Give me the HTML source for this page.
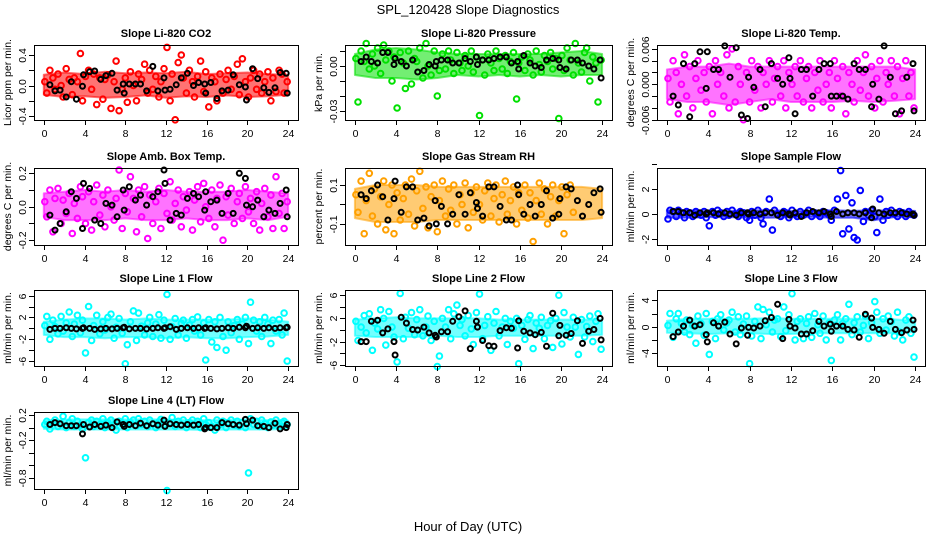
<!DOCTYPE html>
<html><head><meta charset="utf-8"><style>
html,body{margin:0;padding:0;background:#fff;}
svg{display:block;font-family:"Liberation Sans",Arial,sans-serif;}
</style></head><body>
<svg id="chart" width="936" height="540" viewBox="0 0 936 540" xmlns="http://www.w3.org/2000/svg">
<rect x="0" y="0" width="936" height="540" fill="#fff"/>
<text x="468" y="14" text-anchor="middle" font-size="13">SPL_120428  Slope Diagnostics</text>
<text x="468" y="531" text-anchor="middle" font-size="13">Hour of Day (UTC)</text>
<g id="panels"></g>
</svg>
<script>
// x values shared (hours)
const colorX = [0.1,0.3,0.6,0.9,1.1,1.4,1.7,1.9,2.2,2.5,2.8,3.0,3.3,3.6,3.8,4.1,4.4,4.7,4.9,5.2,5.5,5.8,6.0,6.3,6.6,6.9,7.1,7.4,7.7,8.0,8.2,8.5,8.8,9.1,9.3,9.6,9.9,10.2,10.4,10.7,11.0,11.3,11.5,11.8,12.1,12.4,12.6,12.9,13.2,13.5,13.7,14.0,14.3,14.6,14.8,15.1,15.4,15.7,15.9,16.2,16.5,16.8,17.0,17.3,17.6,17.9,18.1,18.4,18.7,19.0,19.2,19.5,19.8,20.1,20.3,20.6,20.9,21.2,21.4,21.7,22.0,22.3,22.5,22.8,23.1,23.4,23.6,23.9];
const blackX = [0.6,1.1,1.6,2.2,2.7,3.2,3.8,3.9,4.5,5.0,5.6,6.1,6.7,7.2,7.8,7.9,8.4,9.0,9.5,10.1,10.7,11.2,11.8,11.9,12.4,13.0,13.5,14.1,14.7,15.2,15.8,15.9,16.4,17.0,17.5,18.1,18.6,19.2,19.8,19.9,20.5,21.0,21.6,22.1,22.7,23.2,23.8,23.9];
const bandX = [0,2,4,6,8,10,12,14,16,18,20,22,24];
const xTicks = [0,4,8,12,16,20,24];

const co2Y = [0.05,-0.1,0.2,0.1,-0.05,0.15,0.0,-0.15,0.22,0.08,-0.12,0.1,0.05,0.42,-0.2,0.12,0.2,-0.05,0.15,-0.25,0.1,-0.18,0.08,0.14,-0.3,0.05,0.32,-0.33,-0.05,0.1,-0.22,0.18,0.0,-0.2,0.15,0.08,0.28,-0.1,0.2,-0.05,0.12,-0.15,0.05,0.22,0.5,-0.2,0.15,-0.45,0.3,0.4,0.1,-0.1,0.2,0.05,-0.15,0.12,0.32,-0.08,0.18,-0.28,0.1,0.05,-0.2,0.15,-0.1,0.08,0.2,-0.05,0.12,0.28,-0.12,0.35,0.05,-0.15,0.1,0.2,-0.05,0.15,-0.1,0.05,0.18,-0.2,0.1,-0.08,0.2,0.15,-0.1,0.05];
const co2B = [0.01,-0.07,-0.06,-0.15,0.05,-0.18,-0.01,0.14,0.18,0.19,0.08,0.13,0.16,-0.06,0.02,-0.1,0.02,0.02,0.02,-0.07,0.25,-0.07,0.1,-0.06,-0.05,0.01,0.1,0.16,0.0,0.04,0.02,-0.1,0.04,-0.17,-0.07,-0.06,0.14,0.01,-0.02,-0.19,0.22,0.09,-0.03,-0.09,-0.03,0.17,0.16,-0.1];
const co2Lo = [-0.12,-0.15,-0.14,-0.16,-0.15,-0.13,-0.16,-0.14,-0.15,-0.13,-0.15,-0.14,-0.12];
const co2Hi = [0.14,0.17,0.15,0.18,0.16,0.17,0.16,0.18,0.15,0.16,0.17,0.15,0.14];
const presY = [0.005,-0.024,0.01,0.003,0.015,-0.002,0.008,0.0,0.012,-0.005,0.014,0.004,0.01,-0.01,0.006,-0.028,0.009,0.002,-0.015,0.01,-0.012,0.005,0.003,0.012,-0.008,0.015,0.0,-0.006,0.01,-0.02,-0.003,0.008,-0.002,0.01,0.004,-0.005,0.009,0.002,-0.003,0.007,0.0,0.01,-0.004,0.006,-0.033,0.004,-0.006,0.008,0.002,-0.003,0.01,0.005,-0.002,0.007,-0.005,0.003,0.009,-0.022,0.002,0.006,-0.003,0.008,0.004,-0.006,0.01,0.001,-0.004,0.007,0.003,0.009,-0.002,0.005,-0.035,0.007,-0.003,0.012,0.004,-0.006,0.015,0.002,-0.004,0.009,0.012,-0.01,0.006,0.002,-0.024,0.004];
const presB = [0.003,0.006,0.003,0.002,0.009,0.009,0.001,0.005,0.003,0.0,0.004,-0.004,-0.003,0.001,0.0,0.003,0.004,0.004,0.002,0.002,0.005,0.003,0.006,0.001,0.004,0.004,0.005,0.006,0.006,0.002,0.003,-0.002,0.007,0.002,0.0,-0.001,0.004,0.005,0.004,-0.001,-0.002,0.004,0.004,0.002,0.0,-0.002,0.004,-0.008];
const presLo = [-0.006,-0.008,-0.008,-0.009,-0.008,-0.006,-0.007,-0.006,-0.007,-0.006,-0.007,-0.006,-0.006];
const presHi = [0.008,0.011,0.012,0.011,0.009,0.008,0.008,0.008,0.008,0.008,0.009,0.01,0.008];
const tempY = [0.001,-0.003,0.004,0.002,-0.005,0.0,0.005,-0.002,0.003,-0.004,0.001,0.004,-0.001,0.002,-0.003,0.003,-0.005,0.004,0.0,0.002,-0.002,0.005,-0.004,0.006,-0.003,0.003,0.0,-0.006,0.002,-0.003,0.004,-0.001,0.003,-0.004,0.002,0.0,0.004,-0.003,0.001,0.003,-0.002,0.004,-0.004,0.002,0.0,0.003,-0.002,0.004,-0.003,0.001,0.003,-0.004,0.002,-0.001,0.004,-0.003,0.0,0.002,-0.004,0.004,0.001,-0.002,0.003,-0.005,0.002,0.0,-0.003,0.004,-0.001,0.002,0.005,-0.002,0.003,-0.004,0.001,0.004,-0.003,0.002,0.0,0.004,-0.002,0.003,-0.005,0.001,0.004,-0.002,0.002,-0.004];
const tempB = [-0.002,-0.0035,0.0035,-0.0055,0.0035,0.0055,-0.0007,0.0055,0.0025,0.0025,0.0065,0.0012,0.0062,-0.0052,-0.0058,0.0012,-0.0005,0.0025,-0.0038,0.0035,0.001,0.0,0.0045,0.001,-0.005,0.0025,0.0025,-0.002,0.0025,0.0035,0.0035,-0.002,-0.002,-0.002,-0.0025,0.0035,0.0025,0.0025,-0.0038,0.0,-0.0025,0.0065,0.0012,-0.005,-0.0045,0.0012,0.0035,-0.0045];
const tempLo = [-0.0025,-0.003,-0.003,-0.0035,-0.003,-0.0025,-0.003,-0.003,-0.003,-0.0028,-0.003,-0.0028,-0.0025];
const tempHi = [0.0025,0.003,0.003,0.0035,0.003,0.003,0.003,0.003,0.003,0.003,0.003,0.003,0.0025];
const ambY = [0.03,-0.06,0.1,-0.15,0.05,0.11,-0.1,0.04,-0.04,0.08,-0.16,0.02,-0.07,0.12,0.06,-0.1,0.09,-0.14,0.03,0.13,-0.05,0.07,-0.12,0.1,0.0,-0.08,0.05,0.22,-0.13,0.08,-0.03,0.18,0.05,-0.15,0.1,-0.06,0.12,-0.19,0.07,-0.1,0.03,0.11,-0.13,0.08,-0.04,0.15,-0.08,0.02,0.1,-0.12,0.06,-0.02,0.09,-0.14,0.04,0.12,-0.09,0.14,0.0,-0.07,0.1,-0.12,0.05,0.13,-0.2,0.06,-0.05,0.11,-0.1,0.03,0.08,-0.07,0.12,-0.03,0.05,-0.1,0.09,-0.14,0.02,0.11,-0.06,0.07,-0.13,0.18,-0.04,0.08,-0.13,0.03];
const ambB = [-0.05,-0.14,-0.1,-0.03,0.09,0.05,-0.13,0.14,0.11,-0.08,-0.1,0.02,0.01,-0.06,0.1,-0.02,0.12,0.04,0.07,0.01,0.06,0.09,0.22,0.14,-0.08,-0.04,-0.05,0.05,0.08,0.06,-0.02,0.09,0.03,0.04,-0.04,0.08,-0.04,0.2,0.17,0.01,0.0,0.04,-0.06,-0.02,-0.04,0.02,0.1,-0.06];
const ambLo = [-0.06,-0.08,-0.08,-0.08,-0.07,-0.08,-0.08,-0.07,-0.08,-0.08,-0.07,-0.08,-0.06];
const ambHi = [0.08,0.09,0.1,0.09,0.1,0.09,0.1,0.09,0.09,0.09,0.1,0.09,0.08];
const rhY = [0.05,-0.04,0.12,-0.15,0.02,0.16,-0.06,0.08,-0.1,0.04,0.12,-0.13,0.0,0.1,-0.15,0.06,-0.08,0.03,0.1,-0.05,0.13,-0.11,0.07,0.17,-0.02,0.09,-0.12,0.04,0.1,-0.14,0.02,0.12,-0.06,0.08,-0.03,0.1,-0.1,0.05,0.0,0.11,-0.12,0.06,-0.04,0.09,0.0,-0.08,0.07,0.11,-0.06,0.03,0.1,-0.09,0.05,0.12,-0.05,0.02,0.09,-0.1,0.06,-0.03,0.1,-0.07,0.06,-0.19,0.02,0.11,-0.05,0.08,-0.1,0.04,0.1,-0.06,0.02,0.09,-0.15,0.05,0.1,-0.04];
const rhB = [0.05,0.03,0.07,0.1,0.04,-0.08,0.03,0.12,-0.04,0.09,0.09,-0.08,-0.07,-0.11,0.02,-0.1,-0.01,-0.1,-0.05,0.05,-0.05,0.06,0.01,-0.02,-0.06,0.09,0.09,-0.01,-0.08,-0.08,0.1,0.05,-0.05,0.0,-0.06,0.0,0.07,-0.07,-0.05,0.03,0.09,0.08,0.02,-0.06,0.0,0.06,0.08,-0.04];
const rhLo = [-0.07,-0.09,-0.09,-0.09,-0.08,-0.08,-0.08,-0.08,-0.08,-0.08,-0.08,-0.08,-0.07];
const rhHi = [0.08,0.1,0.1,0.1,0.09,0.09,0.09,0.09,0.09,0.09,0.09,0.09,0.08];
const sampY = [-0.4,0.3,0.2,-0.2,0.3,0.1,-0.3,0.2,0.1,-0.2,0.2,0.0,-0.1,0.2,-0.3,-0.95,0.2,-0.1,0.3,0.1,-0.2,0.2,-0.1,0.3,0.0,-0.2,0.2,0.1,-0.3,-0.5,0.2,-0.1,0.3,-0.3,-0.8,0.2,1.2,-1.3,0.3,0.0,-0.2,0.2,0.1,-0.3,0.3,0.0,-0.2,0.2,-0.1,0.1,0.3,-0.2,0.1,0.0,-0.2,0.2,0.1,-0.1,-0.5,0.3,1.2,3.5,-1.6,1.5,-1.2,0.9,-1.9,-2.1,1.9,-0.6,0.2,-0.1,0.3,-0.2,-1.5,1.2,-0.5,0.2,-0.1,0.3,0.0,-0.2,0.2,0.1,-0.2,0.2,0.0,-0.1];
const sampB = [0.2,0.2,0.1,0.1,-0.1,0.1,0.0,0.1,0.1,0.0,0.1,0.0,-0.1,0.1,0.1,0.0,0.1,0.0,0.1,0.1,-0.1,0.1,0.0,-0.1,0.1,-0.2,0.1,0.2,0.1,0.2,0.0,-0.2,0.2,0.0,0.1,0.1,0.0,0.1,-0.3,0.4,0.1,0.0,0.1,0.1,0.1,0.0,0.0,-0.1];
const sampLo = [-0.3,-0.3,-0.25,-0.25,-0.3,-0.3,-0.25,-0.25,-0.3,-0.3,-0.5,-0.25,-0.25];
const sampHi = [0.3,0.3,0.25,0.25,0.3,0.3,0.25,0.25,0.3,0.25,0.3,0.25,0.25];
const l1Y = [0.5,2.2,-2,1.5,0.3,-1,2.2,-0.5,1,3,-1.5,0.8,2.4,-0.8,1.5,-4.5,4,-2.2,0.5,2.4,-1,1.2,-0.3,2,2.6,-1.8,0.2,1.8,-0.9,-6.5,-3,1.2,3.2,-2.2,2.8,0.4,-1.2,1,2,-1.5,0.8,2.5,-1.8,1.5,6.2,-2,0.3,1.8,-1.2,0.9,1.5,-1.8,0.6,1.6,-0.5,2.1,-1.2,1,-5.8,1.6,-2.5,1.2,-3.5,2,-1.5,-4,1.2,-0.8,0.5,1.6,-2,0.8,2,-2.8,4.8,1.5,-0.5,1.2,-1.5,2,0.8,-2.8,1.5,-0.5,1.6,-1.2,2.8,-6];
const l1B = [-0.2,0,0,0.1,0,-0.1,0,0.1,0,-0.2,-0.1,0,-0.1,0,0.1,0.2,-0.1,0,0,-0.1,0,0.1,0,0.1,0.3,-0.2,0,0.1,0,0.1,0,0.1,0,-0.1,0,0.1,0,0.2,0.1,0.4,0,0.1,0,0.1,0,0.1,0.1,0.2];
const l1Lo = [-1.2,-1.6,-1.6,-1.8,-1.6,-1.6,-1.8,-1.6,-1.8,-1.8,-1.6,-1.5,-1.2];
const l1Hi = [1.2,1.6,1.8,1.8,1.6,1.8,1.6,1.6,1.6,1.6,1.8,1.6,1.2];
const l2Y = [1.5,-1.8,0.5,2.5,-0.5,2.8,-3.5,1.2,0.2,3.5,2,-2.6,3.2,0.5,-1.2,-5.5,6.3,-1.5,2.2,0.3,3,-0.8,1.8,3.5,-1,0.5,2.4,-1.8,1.5,-6.3,-4.5,2,0.5,3.5,-1.5,2.8,4.3,0.8,1.8,-1,2.5,0.2,-2.5,3,6.2,-1.5,0.8,2.3,-3.5,1.2,3.2,-1,0.5,2,-2.5,1.5,0.3,2,-5.8,0.8,-1.6,1.8,2.5,-3.2,1.2,0.3,2.2,-1.5,0.8,1.6,-3,2,6,-2.4,3,0.5,-1.2,2.2,0.5,-4.2,1.8,-1.2,0.6,2.4,-2,1.5,2.8,-3.3];
const l2B = [-2,-2,1.5,1.7,-0.5,0.2,-2,-4.3,2.2,1.2,0.1,0,0.5,-0.5,-0.9,-1.2,-0.3,-0.3,1.5,2.3,3.3,-3.2,1.5,0.5,-1.8,-2.7,-2.8,-0.1,0.4,0.3,-3.1,1.6,-0.2,-0.5,-0.8,-0.4,-2.8,2.9,-1,0.8,-0.9,-0.6,1.6,-2.3,-0.2,0.1,2,-1.7];
const l2Lo = [-1,-1.2,-1.2,-1.2,-1,-1.2,-1.2,-1,-1,-1,-1,-1,-0.8];
const l2Hi = [1.8,2,2.2,2,2,2,2,1.8,1.8,1.8,1.8,1.8,1.8];
const l3Y = [0.2,2,-1.6,1.2,2,0.5,-0.8,1,-1.2,0.2,-2.5,1.6,0.5,-1.3,2,-4.2,0.8,-1.8,1.2,1.8,-0.5,0.6,1,2.2,-0.8,1.5,-1.2,0.4,1.6,-5.6,-1.4,0.8,3,-1.8,2.6,0.3,2.2,-0.8,1,1.2,-1.5,3,-0.6,1.8,5,-2,0.8,1.2,-1.8,0.5,1.5,-1.6,2,0.3,-1,1.6,-2,0.6,-5.1,1,1.8,-2,0.5,1.2,3.4,-1.2,0.6,1.5,-0.8,0.2,1.6,-1.8,0.6,3.8,2.2,-1,1.2,-0.5,1.6,0.8,-1.4,2.2,-0.8,-2,1,1.5,-1,-4.6];
const l3B = [-1.5,-0.8,0.1,1,0.1,0.3,-1.2,-2.3,0.6,0.1,0.7,-1.1,-2.6,-0.2,-1.3,-0.1,-0.2,0.1,0.9,1.4,3.4,-1.8,1.1,0.1,-0.2,-1.1,-1.1,-0.6,0.8,0.1,0.4,-0.7,0.1,0.1,-0.4,-0.5,-1.6,1.9,1.3,-0.1,-0.4,-1,0.8,-0.4,-0.9,-0.5,1,-0.4];
const l3Lo = [-0.9,-1,-1.1,-1,-1,-1.1,-1.1,-1,-1,-1,-1,-1,-0.8];
const l3Hi = [0.9,1.2,1.2,1.2,1.2,1.3,1.2,1.2,1.2,1.2,1.2,1.1,0.9];
const l4Y = [0.05,0.1,-0.02,0.08,0.12,0.02,0.06,0.18,0.0,0.08,0.14,0.02,0.1,0.04,-0.02,-0.48,0.08,0.12,0.02,0.1,0.05,0.14,0.0,0.08,0.12,0.03,-0.04,0.1,0.06,0.14,0.0,0.08,0.12,0.03,0.14,0.05,0.1,0.02,0.12,0.06,0.0,0.09,0.13,0.04,-1.0,0.08,0.16,0.02,0.1,0.05,0.12,0.0,0.08,0.12,0.04,0.1,0.0,0.14,0.05,0.08,0.02,-0.04,0.12,0.05,0.1,0.0,0.08,0.12,0.04,0.1,0.02,0.08,0.0,-0.72,0.14,0.05,0.1,0.02,0.12,0.06,0.0,0.09,0.04,0.12,0.02,0.08,0.1,0.05];
const l4B = [0.05,0.08,0.06,0.03,0.03,0.03,-0.1,0.05,0.01,0.05,0.02,0.04,0.0,0.09,0.05,0.02,0.05,0.03,0.07,0.03,0.06,0.04,0.12,0.02,0.06,0.05,0.04,0.05,0.04,0.05,-0.02,0.0,0.0,0.0,0.08,0.06,0.05,0.04,0.13,0.06,0.12,0.03,0.02,0.0,0.07,-0.02,0.0,0.05];
const l4Lo = [-0.02,-0.03,-0.03,-0.03,-0.03,-0.03,-0.03,-0.03,-0.04,-0.03,-0.03,-0.03,-0.02];
const l4Hi = [0.11,0.13,0.13,0.13,0.13,0.13,0.13,0.12,0.12,0.12,0.13,0.12,0.11];

const panels = [
 {id:'co2',col:0,row:0,title:'Slope Li-820 CO2',ylab:'Licor ppm per min.',color:'#ff0000',y:co2Y,b:co2B,lo:co2Lo,hi:co2Hi,dom:[-0.452,0.531],ticks:[-0.4,-0.2,0,0.2,0.4],labels:{'-0.4':'-0.4','0':'0.0','0.4':'0.4'}},
 {id:'pressure',col:1,row:0,title:'Slope Li-820 Pressure',ylab:'kPa per min.',color:'#00e000',y:presY,b:presB,lo:presLo,hi:presHi,dom:[-0.036,0.014],ticks:[-0.03,-0.02,-0.01,0,0.01],labels:{'-0.03':'-0.03','0':'0.00'}},
 {id:'temp',col:2,row:0,title:'Slope Li-820 Temp.',ylab:'degrees C per min.',color:'#ff00ff',y:tempY,b:tempB,lo:tempLo,hi:tempHi,dom:[-0.00605,0.00666],ticks:[-0.006,-0.004,-0.002,0,0.002,0.004,0.006],labels:{'-0.006':'-0.006','0':'0.000','0.006':'0.006'}},
 {id:'amb-box',col:0,row:1,title:'Slope Amb. Box Temp.',ylab:'degrees C per min.',color:'#ff00ff',y:ambY,b:ambB,lo:ambLo,hi:ambHi,dom:[-0.229,0.232],ticks:[-0.2,-0.1,0,0.1,0.2],labels:{'-0.2':'-0.2','0':'0.0','0.2':'0.2'}},
 {id:'gas-rh',col:1,row:1,title:'Slope Gas Stream RH',ylab:'percent per min.',color:'#ffa000',y:rhY,b:rhB,lo:rhLo,hi:rhHi,dom:[-0.208,0.187],ticks:[-0.1,0,0.1],labels:{'-0.1':'-0.1','0.1':'0.1'}},
 {id:'sample-flow',col:2,row:1,title:'Slope Sample Flow',ylab:'ml/min per min.',color:'#0000ff',y:sampY,b:sampB,lo:sampLo,hi:sampHi,dom:[-2.5,3.71],ticks:[-2,0,2,4],labels:{'-2':'-2','0':'0','2':'2'}},
 {id:'line1',col:0,row:2,title:'Slope Line 1 Flow',ylab:'ml/min per min.',color:'#00ffff',y:l1Y,b:l1B,lo:l1Lo,hi:l1Hi,dom:[-6.9,7.03],ticks:[-6,-4,-2,0,2,4,6],labels:{'-6':'-6','-2':'-2','2':'2','6':'6'}},
 {id:'line2',col:1,row:2,title:'Slope Line 2 Flow',ylab:'ml/min per min.',color:'#00ffff',y:l2Y,b:l2B,lo:l2Lo,hi:l2Hi,dom:[-6.2,6.9],ticks:[-6,-4,-2,0,2,4,6],labels:{'-6':'-6','-2':'-2','2':'2','6':'6'}},
 {id:'line3',col:2,row:2,title:'Slope Line 3 Flow',ylab:'ml/min per min.',color:'#00ffff',y:l3Y,b:l3B,lo:l3Lo,hi:l3Hi,dom:[-5.95,5.56],ticks:[-4,-2,0,2,4],labels:{'-4':'-4','0':'0','4':'4'}},
 {id:'line4',col:0,row:3,title:'Slope Line 4 (LT) Flow',ylab:'ml/min per min.',color:'#00ffff',y:l4Y,b:l4B,lo:l4Lo,hi:l4Hi,dom:[-0.975,0.248],ticks:[-0.8,-0.6,-0.4,-0.2,0,0.2],labels:{'-0.8':'-0.8','-0.2':'-0.2','0.2':'0.2'}}
];

const colL=[34,345,657], colR=[298,612,925];
const rowT=[45,168,290,412], rowB=[120,245,366,489];
const NS='http://www.w3.org/2000/svg';
const root=document.getElementById('panels');
function mk(tag,attrs,parent){const e=document.createElementNS(NS,tag);for(const k in attrs)e.setAttribute(k,attrs[k]);parent.appendChild(e);return e;}

panels.forEach(p=>{
  const L=colL[p.col],R=colR[p.col],T=rowT[p.row],B=rowB[p.row];
  const xs=v=>L+(v+0.96)/25.92*(R-L);
  const ys=v=>B-(v-p.dom[0])/(p.dom[1]-p.dom[0])*(B-T);
  const g=mk('g',{},root);
  
  
  const t=mk('text',{x:(L+R)/2,y:T-8,'text-anchor':'middle','font-size':'11','font-weight':'bold'},g);
  t.textContent=p.title;
  
  
  const yl=mk('text',{transform:`translate(${L-23},${(T+B)/2}) rotate(-90)`,'text-anchor':'middle','font-size':'10.5'},g);
  yl.textContent=p.ylab;
  
  
  let d='';
  bandX.forEach((h,i)=>{d+=(i?'L':'M')+xs(h).toFixed(1)+','+ys(p.hi[i]).toFixed(1);});
  for(let i=bandX.length-1;i>=0;i--){d+='L'+xs(bandX[i]).toFixed(1)+','+ys(p.lo[i]).toFixed(1);}
  const band=mk('path',{d:d+'Z',fill:p.color,stroke:p.color,'stroke-width':'2','stroke-linejoin':'round','fill-opacity':'0.55','stroke-opacity':'0.55'},g);
  
  
  const cg=mk('g',{fill:'none',stroke:p.color,'stroke-width':'2'},g);
  
  
  const n=Math.min(colorX.length,p.y.length);
  for(let i=0;i<n;i++){
    const c=mk('circle',{cx:xs(colorX[i]).toFixed(1),cy:ys(p.y[i]).toFixed(1),r:'2.8'},cg);
    
    
  }
  const bg=mk('g',{fill:'none',stroke:'#000','stroke-width':'2'},g);
  
  
  const m=Math.min(blackX.length,p.b.length);
  for(let i=0;i<m;i++){
    const c=mk('circle',{cx:xs(blackX[i]).toFixed(1),cy:ys(p.b[i]).toFixed(1),r:'2.5'},bg);
    
    
  }
  const box=mk('rect',{x:L+0.5,y:T+0.5,width:R-L,height:B-T,fill:'none',stroke:'#000','stroke-width':'1'},g);
  
  
  const ax=mk('g',{stroke:'#000','stroke-width':'1'},g);
  
  
  xTicks.forEach(v=>{
    const x=Math.round(xs(v))+0.5;
    mk('line',{x1:x,x2:x,y1:B,y2:B+5},ax);
    const tl=mk('text',{x:x,y:B+17,'text-anchor':'middle','font-size':'10.5',stroke:'none',fill:'#000'},ax);
    tl.textContent=String(v);
    
    
  });
  const ay=mk('g',{stroke:'#000','stroke-width':'1'},g);
  
  
  p.ticks.forEach(v=>{
    const y=Math.round(ys(v))+0.5;
    mk('line',{x1:L-5,x2:L,y1:y,y2:y},ay);
    const lab=p.labels[String(v)];
    if(lab!==undefined){
      const tl=mk('text',{transform:`translate(${L-8},${y}) rotate(-90)`,'text-anchor':'middle','font-size':'10.5',stroke:'none',fill:'#000'},ay);
      tl.textContent=lab;
      
      
    }
  });
});
</script>
</body></html>
